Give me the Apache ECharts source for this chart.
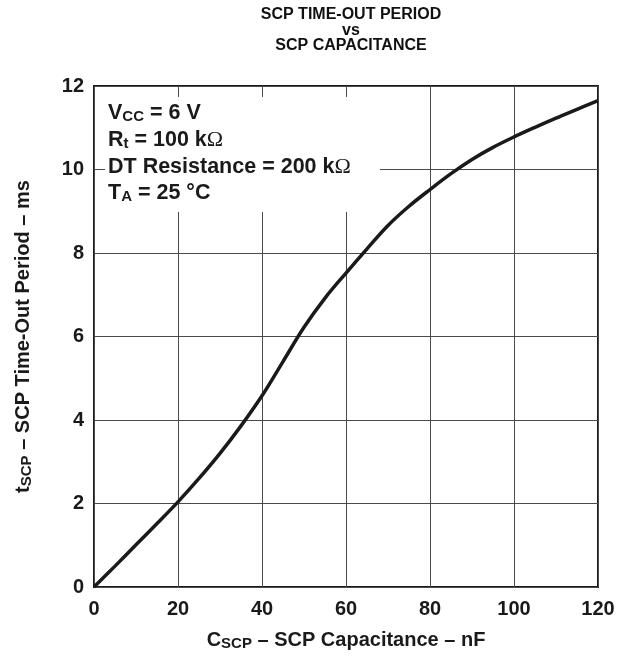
<!DOCTYPE html>
<html>
<head>
<meta charset="utf-8">
<script src="https://cdn.jsdelivr.net/npm/echarts@6/dist/echarts.min.js"></script>
<style>html,body{margin:0;padding:0;background:#fff}#c{width:631px;height:660px}</style>
</head>
<body>
<div id="c"></div>
<script>
// Data (every 5 nF)
const capacitance = [0, 5, 10, 15, 20, 25, 30, 35, 40, 45, 50, 55, 60, 65, 70, 75, 80, 85, 90, 95, 100, 105, 110, 115, 120];
const period = [0, 0.5, 1.01, 1.52, 2.04, 2.6, 3.2, 3.86, 4.58, 5.4, 6.22, 6.92, 7.52, 8.1, 8.66, 9.12, 9.52, 9.9, 10.24, 10.53, 10.78, 11.01, 11.23, 11.44, 11.65];
const xTicks = [0, 20, 40, 60, 80, 100, 120];
const yTicks = [0, 2, 4, 6, 8, 10, 12];

const FONT = '"Liberation Sans", Arial, Helvetica, sans-serif';
const SERIF = '"Liberation Serif", "Times New Roman", serif';
const chart = echarts.init(document.getElementById('c'), null, {renderer: 'canvas'});

const richBase = {
  n: {fontFamily: FONT, fontWeight: 'bold', fontSize: 20, color: '#1a1a1a', lineHeight: 22, verticalAlign: 'middle'},
  s: {fontFamily: FONT, fontWeight: 'bold', fontSize: 15, color: '#1a1a1a', lineHeight: 14, verticalAlign: 'bottom'}
};

chart.setOption({
  animation: false,
  backgroundColor: '#fff',
  title: {
    text: 'SCP TIME-OUT PERIOD\nvs\nSCP CAPACITANCE',
    left: 346,
    top: 2,
    textAlign: 'center',
    textStyle: {fontFamily: FONT, fontWeight: 'bold', fontSize: 16, lineHeight: 15.5, color: '#111'}
  },
  grid: {
    left: 94, right: 33, top: 86, bottom: 73,
    show: true, borderColor: '#1a1a1a', borderWidth: 2, backgroundColor: 'transparent'
  },
  xAxis: {
    type: 'value', min: xTicks[0], max: xTicks[xTicks.length - 1], interval: 20,
    axisLine: {show: false},
    axisTick: {show: false},
    splitLine: {show: true, lineStyle: {color: '#4a4a4a', width: 1}},
    axisLabel: {fontFamily: FONT, fontWeight: 'bold', fontSize: 20, color: '#1a1a1a', margin: 12},
    name: '{n|C}{s|SCP}{n| – SCP Capacitance – nF}',
    nameLocation: 'middle', nameGap: 42,
    nameTextStyle: {rich: richBase}
  },
  yAxis: {
    type: 'value', min: yTicks[0], max: yTicks[yTicks.length - 1], interval: 2,
    axisLine: {show: false},
    axisTick: {show: false},
    splitLine: {show: true, lineStyle: {color: '#4a4a4a', width: 1}},
    axisLabel: {fontFamily: FONT, fontWeight: 'bold', fontSize: 20, color: '#1a1a1a', margin: 10},
    name: '{n|t}{s|SCP}{n| – SCP Time-Out Period – ms}',
    nameLocation: 'middle', nameGap: 60,
    nameTextStyle: {rich: richBase}
  },
  series: [{
    type: 'line',
    data: capacitance.map((c, i) => [c, period[i]]),
    showSymbol: false,
    smooth: 0.35,
    lineStyle: {color: '#1a1a1a', width: 3.5},
    z: 5
  }],
  graphic: [
    {type: 'rect', z: 100, shape: {x: 105, y: 97, width: 275, height: 115}, style: {fill: '#fff'}},
    {type: 'text', z: 101, x: 108, y: 100, style: {
      text: '{n|V}{s|CC}{n| = 6 V}\n{n|R}{s|t}{n| = 100 k}{o|Ω}\n{n|DT Resistance = 200 k}{o|Ω}\n{n|T}{s|A}{n| = 25 °C}',
      rich: {
        n: {fontFamily: FONT, fontWeight: 'bold', fontSize: 21.5, fill: '#1a1a1a', lineHeight: 26.7, verticalAlign: 'middle'},
        s: {fontFamily: FONT, fontWeight: 'bold', fontSize: 15, fill: '#1a1a1a', lineHeight: 12, verticalAlign: 'bottom', padding: [0, 0, 2, 0]},
        o: {fontFamily: SERIF, fontSize: 22, fill: '#1a1a1a', lineHeight: 26.7, verticalAlign: 'middle'}
      }
    }}
  ]
});
</script>
</body>
</html>
